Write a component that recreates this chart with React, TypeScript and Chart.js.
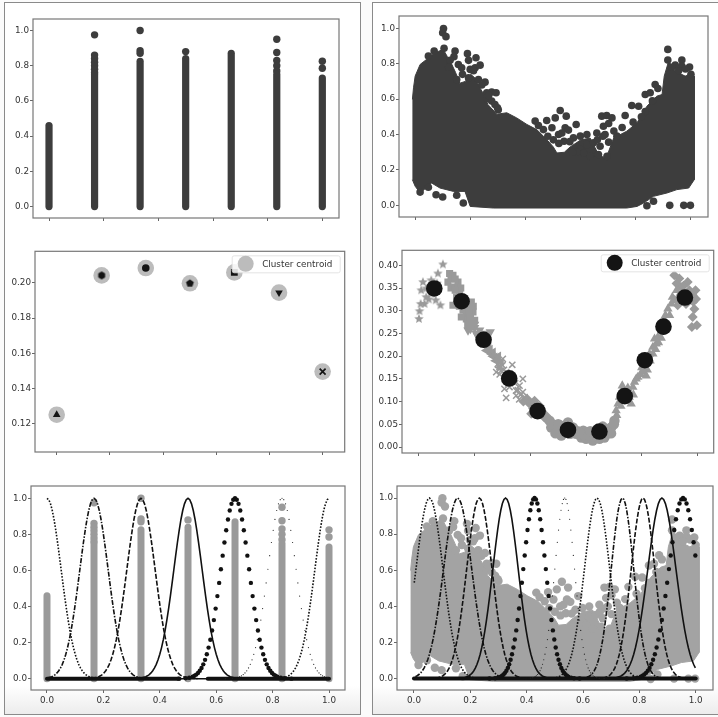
import React, { useEffect, useRef } from "react";
import { Chart, registerables } from "chart.js";

Chart.register(...registerables);

const FONT = "'DejaVu Sans', sans-serif";
const DARK = "#3d3d3d";
const GRAY = "#9a9a9a";
const BLACK = "#141414";
const LEGEND_LABEL = "Cluster centroid";

// ---- left column: strips of a discrete feature ----
const stripX = [0, 0.1667, 0.3333, 0.5, 0.6667, 0.8333, 1];
const stripTop = [0.46, 0.75, 0.825, 0.84, 0.87, 0.75, 0.73];
const stripOutlierX = [0.1667, 0.1667, 0.1667, 0.1667, 0.1667, 0.1667, 0.1667, 0.3333, 0.3333, 0.3333, 0.5, 0.8333, 0.8333, 0.8333, 0.8333, 0.8333, 1, 1];
const stripOutlierY = [0.975, 0.86, 0.84, 0.82, 0.8, 0.78, 0.76, 1.0, 0.885, 0.87, 0.88, 0.95, 0.875, 0.83, 0.8, 0.77, 0.825, 0.785];

// ---- right column: outline of the dense cloud, then stray points ----
const cloudX = [-0.012, -0.008, -0.002, 0.016, 0.04, 0.07, 0.1, 0.115, 0.13, 0.145, 0.16, 0.18, 0.2, 0.215, 0.235, 0.25, 0.262, 0.295, 0.331, 0.367, 0.404, 0.44, 0.476, 0.5, 0.513, 0.54, 0.561, 0.6, 0.634, 0.66, 0.682, 0.7, 0.719, 0.767, 0.804, 0.84, 0.876, 0.895, 0.903, 0.919, 0.943, 0.979, 0.998, 1.012, 1.012, 1.012, 0.992, 0.949, 0.913, 0.864, 0.828, 0.804, 0.767, 0.282, 0.198, 0.179, 0.137, 0.088, 0.058, 0.016, -0.002, -0.012];
const cloudY = [0.598, 0.664, 0.73, 0.796, 0.825, 0.862, 0.881, 0.84, 0.8, 0.75, 0.69, 0.7, 0.74, 0.72, 0.66, 0.62, 0.57, 0.515, 0.523, 0.494, 0.457, 0.428, 0.372, 0.33, 0.296, 0.3, 0.33, 0.37, 0.38, 0.3, 0.27, 0.3, 0.38, 0.419, 0.466, 0.56, 0.617, 0.626, 0.73, 0.815, 0.758, 0.73, 0.74, 0.73, 0.598, 0.145, 0.098, 0.089, 0.07, 0.051, 0.013, -0.006, -0.015, -0.015, -0.006, 0.079, 0.079, 0.098, 0.126, 0.07, 0.108, 0.145];
const strayX = [0.101, 0.098, 0.11, 0.103, 0.067, 0.046, 0.143, 0.139, 0.188, 0.192, 0.219, 0.155, 0.167, 0.216, 0.234, 0.198, 0.192, 0.228, 0.252, 0.149, 0.258, 0.276, 0.292, 0.258, 0.276, 0.288, 0.297, 0.525, 0.507, 0.547, 0.476, 0.434, 0.446, 0.464, 0.495, 0.543, 0.519, 0.555, 0.531, 0.583, 0.539, 0.676, 0.694, 0.713, 0.701, 0.682, 0.761, 0.785, 0.81, 0.834, 0.834, 0.87, 0.852, 0.916, 0.916, 0.943, 0.967, 0.967, 0.995, 1.0, 0.923, 0.974, 0.998, 0.84, 0.864, 0.149, 0.098, 0.074, 0.046, 0.016, 0.173, 0.573, 0.598, 0.622, 0.658, 0.688, 0.731, 0.598, 0.622, 0.646, 0.67, 0.701, 0.61, 0.634, 0.664, 0.695, 0.585, 0.125, 0.12, 0.17, 0.21, 0.24, 0.265, 0.3, 0.48, 0.5, 0.52, 0.56, 0.57, 0.66, 0.68, 0.72, 0.75, 0.79, 0.82, 0.86, 0.88, 0.93, 0.955, 0.98];
const strayY = [0.999, 0.975, 0.953, 0.887, 0.872, 0.843, 0.872, 0.84, 0.857, 0.819, 0.834, 0.796, 0.777, 0.777, 0.792, 0.768, 0.72, 0.711, 0.696, 0.711, 0.636, 0.64, 0.636, 0.602, 0.589, 0.57, 0.551, 0.536, 0.494, 0.504, 0.479, 0.476, 0.451, 0.428, 0.438, 0.438, 0.4, 0.425, 0.409, 0.457, 0.362, 0.504, 0.508, 0.494, 0.462, 0.447, 0.508, 0.564, 0.56, 0.53, 0.626, 0.683, 0.636, 0.881, 0.821, 0.792, 0.821, 0.787, 0.781, 0.74, 0.0, 0.0, 0.0, -0.002, 0.023, 0.057, 0.047, 0.06, 0.102, 0.075, 0.013, 0.381, 0.391, 0.4, 0.409, 0.4, 0.391, 0.315, 0.343, 0.353, 0.334, 0.357, 0.296, 0.277, 0.287, 0.277, 0.3, 0.82, 0.78, 0.74, 0.76, 0.68, 0.62, 0.54, 0.39, 0.37, 0.35, 0.36, 0.3, 0.37, 0.39, 0.42, 0.44, 0.47, 0.5, 0.59, 0.66, 0.78, 0.76, 0.77];

// ---- middle left: centroids of the discrete feature ----
const centroidX = [0.0, 0.169, 0.335, 0.501, 0.668, 0.836, 1.0];
const centroidY = [0.1251, 0.2043, 0.2085, 0.1998, 0.206, 0.1945, 0.1496];

// ---- middle right: centroids of the continuous feature and its members ----
const contCentroidX = [0.055, 0.153, 0.232, 0.324, 0.426, 0.535, 0.648, 0.739, 0.811, 0.878, 0.955];
const contCentroidY = [0.349, 0.321, 0.236, 0.151, 0.079, 0.0375, 0.034, 0.112, 0.191, 0.265, 0.329];

const starX = [0, 0.002, 0.006, 0.02, 0.008, 0.014, 0.026, 0.044, 0.068, 0.077, 0.086, 0.044, 0.026, 0.065, 0.06, 0.05, 0.035];
const starY = [0.282, 0.299, 0.315, 0.315, 0.345, 0.363, 0.33, 0.3375, 0.382, 0.312, 0.402, 0.367, 0.349, 0.36, 0.323, 0.345, 0.325];
const squareX = [0.11, 0.122, 0.14, 0.104, 0.128, 0.146, 0.122, 0.158, 0.17, 0.188, 0.194, 0.188, 0.2, 0.17, 0.152, 0.135, 0.115, 0.16, 0.178, 0.115, 0.13, 0.15, 0.155, 0.14, 0.165, 0.18, 0.195, 0.175, 0.185, 0.13, 0.145];
const squareY = [0.382, 0.378, 0.363, 0.363, 0.352, 0.3375, 0.312, 0.301, 0.29, 0.319, 0.297, 0.271, 0.279, 0.282, 0.286, 0.33, 0.35, 0.318, 0.305, 0.37, 0.37, 0.35, 0.325, 0.32, 0.305, 0.295, 0.31, 0.27, 0.285, 0.345, 0.31];
const downTriX = [0.176, 0.2, 0.218, 0.224, 0.248, 0.256, 0.236, 0.19, 0.21, 0.205, 0.215, 0.23, 0.24, 0.2, 0.185];
const downTriY = [0.257, 0.2625, 0.257, 0.242, 0.249, 0.253, 0.227, 0.268, 0.245, 0.25, 0.24, 0.25, 0.235, 0.27, 0.26];
const leftTriX = [0.242, 0.26, 0.272, 0.266, 0.283, 0.295, 0.25, 0.255, 0.265, 0.275, 0.29, 0.285, 0.245];
const leftTriY = [0.2125, 0.205, 0.198, 0.209, 0.19, 0.187, 0.22, 0.215, 0.2, 0.19, 0.175, 0.2, 0.225];
const crossX = [0.2775, 0.289, 0.301, 0.335, 0.283, 0.313, 0.307, 0.313, 0.325, 0.373, 0.361, 0.349, 0.373, 0.379, 0.349, 0.295, 0.3, 0.345, 0.36, 0.305, 0.29, 0.32, 0.355, 0.365, 0.385];
const crossY = [0.165, 0.176, 0.194, 0.181, 0.183, 0.165, 0.128, 0.108, 0.132, 0.15, 0.135, 0.124, 0.121, 0.11, 0.113, 0.168, 0.18, 0.14, 0.105, 0.17, 0.16, 0.14, 0.125, 0.115, 0.1];
const diamondX = [0.397, 0.415, 0.433, 0.403, 0.445, 0.457, 0.917, 0.935, 0.941, 0.965, 0.971, 0.993, 0.989, 0.983, 0.98, 0.998, 0.929, 0.959, 0.983, 0.995, 0.39, 0.41, 0.425, 0.44, 0.45, 0.46, 0.405, 0.375, 0.925, 0.95, 0.955, 0.975, 0.985, 0.94];
const diamondY = [0.095, 0.102, 0.091, 0.073, 0.073, 0.069, 0.378, 0.371, 0.352, 0.363, 0.345, 0.345, 0.304, 0.286, 0.264, 0.268, 0.312, 0.315, 0.334, 0.326, 0.105, 0.085, 0.08, 0.08, 0.065, 0.06, 0.095, 0.1, 0.36, 0.355, 0.33, 0.33, 0.32, 0.325];
const circleX = [0.469, 0.475, 0.493, 0.511, 0.535, 0.553, 0.565, 0.583, 0.606, 0.6, 0.624, 0.648, 0.666, 0.678, 0.69, 0.702, 0.511, 0.541, 0.59, 0.63, 0.66, 0.68, 0.48, 0.5, 0.52, 0.55, 0.57, 0.58, 0.61, 0.615, 0.64, 0.65, 0.67, 0.69, 0.7, 0.66, 0.53, 0.49];
const circleY = [0.058, 0.043, 0.04, 0.047, 0.054, 0.043, 0.029, 0.021, 0.032, 0.018, 0.014, 0.018, 0.021, 0.036, 0.043, 0.058, 0.025, 0.029, 0.036, 0.03, 0.035, 0.03, 0.05, 0.05, 0.035, 0.03, 0.035, 0.03, 0.025, 0.035, 0.025, 0.028, 0.03, 0.03, 0.05, 0.045, 0.04, 0.03];
const upTriX = [0.708, 0.72, 0.726, 0.744, 0.762, 0.768, 0.774, 0.786, 0.804, 0.816, 0.828, 0.84, 0.852, 0.846, 0.858, 0.87, 0.894, 0.906, 0.917, 0.935, 0.715, 0.735, 0.755, 0.88, 0.71, 0.725, 0.73, 0.74, 0.75, 0.77, 0.78, 0.795, 0.8, 0.81, 0.82, 0.83, 0.84, 0.85, 0.86, 0.87, 0.875, 0.885, 0.9, 0.91, 0.925, 0.93, 0.945];
const upTriY = [0.08, 0.11, 0.121, 0.102, 0.095, 0.132, 0.143, 0.154, 0.165, 0.157, 0.205, 0.22, 0.227, 0.238, 0.242, 0.253, 0.304, 0.315, 0.323, 0.326, 0.095, 0.12, 0.11, 0.28, 0.07, 0.09, 0.135, 0.12, 0.13, 0.115, 0.15, 0.16, 0.175, 0.18, 0.17, 0.19, 0.205, 0.215, 0.23, 0.24, 0.27, 0.29, 0.29, 0.33, 0.345, 0.33, 0.34];

// ---- bottom row: membership curves share one bell profile ----
const profileZ = [0, 0.125, 0.25, 0.375, 0.5, 0.625, 0.75, 0.875, 1, 1.125, 1.25, 1.375, 1.5, 1.625, 1.75, 1.875, 2, 2.125, 2.25, 2.375, 2.5, 2.625, 2.75, 2.875, 3, 3.25, 3.5, 4];
const profileY = [1, 0.9922, 0.9692, 0.9321, 0.8825, 0.8226, 0.7548, 0.6819, 0.6065, 0.5311, 0.4578, 0.3886, 0.3247, 0.2671, 0.2163, 0.1724, 0.1353, 0.1046, 0.0796, 0.0595, 0.0439, 0.0319, 0.0228, 0.016, 0.0111, 0.0051, 0.0022, 0.0003];

const leftCenters = [0, 0.1667, 0.3333, 0.5, 0.6667, 0.8333, 1];
const leftWidths = [0.05, 0.05, 0.05, 0.05, 0.05, 0.05, 0.05];
const leftStyles = ["dotted", "dashdot", "dashed", "solid", "fat", "fine", "dotted"];

const rightCenters = [0.055, 0.155, 0.232, 0.325, 0.428, 0.535, 0.65, 0.74, 0.813, 0.88, 0.955];
const rightWidths = [0.048, 0.05, 0.045, 0.045, 0.04, 0.035, 0.045, 0.04, 0.042, 0.05, 0.05];
const rightStyles = ["dotted", "dashdot", "dashed", "solid", "fat", "fine", "dotted", "dashdot", "dashed", "solid", "fat"];

const baseLeftX = [[0, 0.47], [0.47, 0.57], [0.57, 1]];
const baseLeftWidth = [4, 1.6, 4];
const baseRightX = [[0, 1]];
const baseRightWidth = [4];

const zip = (xs: number[], ys: number[]) => xs.map((x, i) => ({ x, y: ys[i] }));

function bell(center: number, width: number) {
  const pts: { x: number; y: number }[] = [];
  for (let i = profileZ.length - 1; i > 0; i--) pts.push({ x: center - profileZ[i] * width, y: profileY[i] });
  for (let i = 0; i < profileZ.length; i++) pts.push({ x: center + profileZ[i] * width, y: profileY[i] });
  return pts.filter((p) => p.x >= 0 && p.x <= 1);
}

function curveDataset(center: number, width: number, style: string) {
  const data = bell(center, width);
  if (style === "fat") return { data, showLine: false, pointRadius: 2.2, backgroundColor: "#111", borderColor: "#111", borderWidth: 0 };
  if (style === "fine") return { data, showLine: false, pointRadius: 0.6, backgroundColor: "#222", borderColor: "#222", borderWidth: 0 };
  const dash = style === "dotted" ? [1.6, 1.6] : style === "dashdot" ? [5, 1.5, 1.5, 1.5] : style === "dashed" ? [5, 1.8] : [];
  return { data, showLine: true, pointRadius: 0, borderColor: "#111", borderWidth: 1.6, borderDash: dash };
}

const curveSets = (centers: number[], widths: number[], styles: string[]) => centers.map((c, i) => curveDataset(c, widths[i], styles[i]));

const baseSets = (spans: number[][], widths: number[]) =>
  spans.map((s, i) => ({
    data: [{ x: s[0], y: 0 }, { x: s[1], y: 0 }],
    showLine: true, pointRadius: 0, borderColor: "#111", borderWidth: widths[i], borderCapStyle: "round",
  }));

const stripSets = (color: string, lineWidth: number, r: number) => [
  ...stripX.map((x, i) => ({
    data: [{ x, y: 0 }, { x, y: stripTop[i] }],
    showLine: true, pointRadius: 0, borderColor: color, borderWidth: lineWidth, borderCapStyle: "round",
  })),
  { data: zip(stripOutlierX, stripOutlierY), pointRadius: r, backgroundColor: color, borderColor: color, borderWidth: 0 },
];

const cloudSets = (color: string, r: number) => [
  { data: zip(strayX, strayY), pointRadius: r, backgroundColor: color, borderColor: color, borderWidth: 0 },
  { data: zip(cloudX, cloudY), showLine: true, fill: "shape", pointRadius: 0, backgroundColor: color, borderColor: color, borderWidth: 1, tension: 0 },
];

function polygonMarker(sides: number, r: number, color: string, star = false) {
  const c = document.createElement("canvas");
  c.width = c.height = Math.ceil(r * 2 + 2);
  const g = c.getContext("2d")!;
  const m = c.width / 2;
  g.fillStyle = color;
  g.beginPath();
  const n = star ? sides * 2 : sides;
  for (let i = 0; i < n; i++) {
    const a = -Math.PI / 2 + (i * 2 * Math.PI) / n;
    const rr = star && i % 2 ? r * 0.45 : r;
    g.lineTo(m + rr * Math.cos(a), m + rr * Math.sin(a));
  }
  g.closePath();
  g.fill();
  return c;
}

const frame = {
  id: "frame",
  afterDatasetsDraw(chart: any, _a: any, opts: any) {
    const { ctx, chartArea: a } = chart;
    ctx.save();
    ctx.strokeStyle = "#777";
    ctx.lineWidth = 1.2;
    ctx.strokeRect(a.left, a.top, a.right - a.left, a.bottom - a.top);
    if (opts.legendColor) {
      const w = 108, h = 17, x = a.right - 4.5 - w, y = a.top + 4.5;
      ctx.fillStyle = "rgba(255,255,255,0.85)";
      ctx.strokeStyle = "#ddd";
      ctx.lineWidth = 0.8;
      ctx.beginPath();
      ctx.roundRect(x, y, w, h, 2);
      ctx.fill();
      ctx.stroke();
      ctx.fillStyle = opts.legendColor;
      ctx.beginPath();
      ctx.arc(x + 13.5, y + 8, 8, 0, Math.PI * 2);
      ctx.fill();
      ctx.fillStyle = "#333";
      ctx.font = `8.8px ${FONT}`;
      ctx.textBaseline = "middle";
      ctx.fillText(LEGEND_LABEL, x + 30, y + 8.5);
    }
    ctx.restore();
  },
};

type Spec = {
  box: number[]; x: number[]; y: number[]; yStep: number; yDec: number; xLabels: boolean;
  legendColor?: string; datasets: () => any[];
};

const PAD_L = 32, PAD_R = 8, PAD_T = 8, PAD_B = 24;

const specs: Spec[] = [
  { box: [33.5, 19.5, 339.5, 218.5], x: [-0.0586, 1.061], y: [-0.065, 1.065], yStep: 0.2, yDec: 1, xLabels: false,
    datasets: () => stripSets(DARK, 7.2, 3.7) },
  { box: [399, 16.5, 707.5, 217.5], x: [-0.0607, 1.062], y: [-0.0657, 1.0696], yStep: 0.2, yDec: 1, xLabels: false,
    datasets: () => cloudSets(DARK, 3.8) },
  { box: [35, 251.5, 345, 452.5], x: [-0.0816, 1.083], y: [0.1039, 0.218], yStep: 0.02, yDec: 2, xLabels: false,
    legendColor: "#bcbcbc",
    datasets: () => {
      const inner = (i: number, style: any, extra: any = {}) => ({
        data: [{ x: centroidX[i], y: centroidY[i] }], pointStyle: style, pointRadius: 4.4,
        backgroundColor: BLACK, borderColor: BLACK, borderWidth: 0, ...extra,
      });
      return [
        inner(0, "triangle"),
        inner(1, polygonMarker(6, 4, BLACK)),
        inner(2, "circle", { pointRadius: 3.8 }),
        inner(3, polygonMarker(5, 4.1, BLACK)),
        inner(4, "rect", { pointRadius: 4.8 }),
        inner(5, "triangle", { pointRotation: 180 }),
        inner(6, "crossRot", { borderWidth: 1.7, pointRadius: 4.2 }),
        { data: zip(centroidX, centroidY), pointRadius: 8.3, backgroundColor: "#bcbcbc", borderColor: "#bcbcbc", borderWidth: 0 },
      ];
    } },
  { box: [402.5, 250, 714.5, 452.5], x: [-0.061, 1.0584], y: [-0.0132, 0.433], yStep: 0.05, yDec: 2, xLabels: false,
    legendColor: BLACK,
    datasets: () => [
      { data: zip(contCentroidX, contCentroidY), pointRadius: 8.3, backgroundColor: BLACK, borderColor: BLACK, borderWidth: 0 },
      { data: zip(starX, starY), pointStyle: polygonMarker(5, 5, GRAY, true), pointRadius: 4 },
      { data: zip(squareX, squareY), pointStyle: "rect", pointRadius: 5, backgroundColor: GRAY, borderColor: GRAY, borderWidth: 0 },
      { data: zip(downTriX, downTriY), pointStyle: "triangle", pointRotation: 180, pointRadius: 5.4, backgroundColor: GRAY, borderColor: GRAY, borderWidth: 0 },
      { data: zip(leftTriX, leftTriY), pointStyle: "triangle", pointRotation: 270, pointRadius: 5.4, backgroundColor: GRAY, borderColor: GRAY, borderWidth: 0 },
      { data: zip(crossX, crossY), pointStyle: "crossRot", pointRadius: 4.4, borderColor: GRAY, borderWidth: 1.5 },
      { data: zip(diamondX, diamondY), pointStyle: "rectRot", pointRadius: 5, backgroundColor: GRAY, borderColor: GRAY, borderWidth: 0 },
      { data: zip(circleX, circleY), pointRadius: 5.2, backgroundColor: GRAY, borderColor: GRAY, borderWidth: 0 },
      { data: zip(upTriX, upTriY), pointStyle: "triangle", pointRadius: 5.4, backgroundColor: GRAY, borderColor: GRAY, borderWidth: 0 },
    ] },
  { box: [31.5, 486, 345.5, 690], x: [-0.0567, 1.0567], y: [-0.0626, 1.068], yStep: 0.2, yDec: 1, xLabels: true,
    datasets: () => [...curveSets(leftCenters, leftWidths, leftStyles), ...baseSets(baseLeftX, baseLeftWidth), ...stripSets(GRAY, 7, 3.7)] },
  { box: [397.5, 486.5, 713.5, 690.5], x: [-0.0603, 1.0614], y: [-0.063, 1.0665], yStep: 0.2, yDec: 1, xLabels: true,
    datasets: () => [...curveSets(rightCenters, rightWidths, rightStyles), ...baseSets(baseRightX, baseRightWidth), ...cloudSets("#a3a3a3", 4.2)] },
];

function Panel({ spec }: { spec: Spec }) {
  const ref = useRef<HTMLCanvasElement>(null);
  const [x0, y0, x1, y1] = spec.box;
  const left = Math.floor(x0) - PAD_L;
  const top = Math.floor(y0) - PAD_T;
  const w = Math.ceil(x1 - x0) + PAD_L + PAD_R;
  const h = Math.ceil(y1 - y0) + PAD_T + PAD_B;
  useEffect(() => {
    const chart = new Chart(ref.current!, {
      type: "scatter",
      data: { datasets: spec.datasets() },
      plugins: [frame],
      options: {
        animation: false, responsive: false, devicePixelRatio: 1, events: [],
        layout: { padding: { left: 0, right: PAD_R, top: PAD_T, bottom: 0 } },
        plugins: { legend: { display: false }, tooltip: { enabled: false }, frame: { legendColor: spec.legendColor } } as any,
        scales: {
          x: {
            type: "linear", min: spec.x[0], max: spec.x[1],
            afterFit: (s: any) => { s.height = PAD_B; },
            grid: { drawOnChartArea: false, drawTicks: true, tickLength: 3, color: "#666" },
            border: { display: false },
            ticks: { stepSize: 0.2, includeBounds: false, display: spec.xLabels, autoSkip: false, maxRotation: 0, padding: 2,
              color: "#333", font: { family: FONT, size: 8.8 }, callback: (v: any) => Number(v).toFixed(1) },
          },
          y: {
            type: "linear", min: spec.y[0], max: spec.y[1],
            afterFit: (s: any) => { s.width = PAD_L; },
            grid: { drawOnChartArea: false, drawTicks: true, tickLength: 3, color: "#666" },
            border: { display: false },
            ticks: { stepSize: spec.yStep, includeBounds: false, autoSkip: false, padding: 1,
              color: "#333", font: { family: FONT, size: 8.8 }, callback: (v: any) => Number(v).toFixed(spec.yDec) },
          },
        },
      } as any,
    });
    return () => chart.destroy();
  }, []);
  return <canvas ref={ref} width={w} height={h} style={{ position: "absolute", left, top, width: w, height: h }} />;
}

export default function App() {
  const panel = (left: number, width: number): React.CSSProperties => ({
    position: "absolute", left, top: 2, width, height: 711, boxSizing: "content-box",
    border: "1.5px solid #8a8a8a",
    background: "linear-gradient(to bottom, #fff 0%, #fff 96%, #ececec 100%)",
  });
  return (
    <div style={{ position: "absolute", left: 0, top: 0, width: 718, height: 717, overflow: "hidden", background: "#fbfbfb", filter: "blur(0.45px)" }}>
      <div style={panel(4, 355)} />
      <div style={panel(372, 360)} />
      {specs.map((s, i) => <Panel key={i} spec={s} />)}
    </div>
  );
}
